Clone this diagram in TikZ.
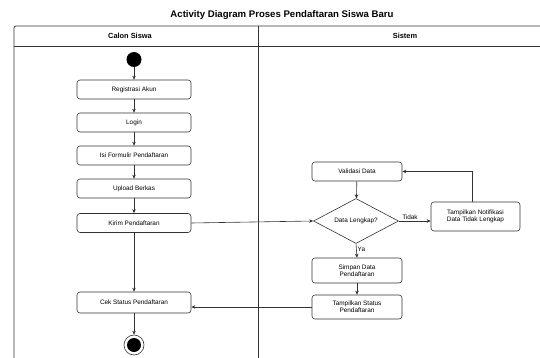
\documentclass[tikz,border=0pt]{standalone}
\usepackage{fontspec}
\setmainfont{Liberation Sans}
\usetikzlibrary{shapes.geometric,arrows.meta}
\begin{document}
\begin{tikzpicture}[x=1pt,y=-1pt,
  act/.style={draw=black!80,line width=0.6pt,rounded corners=3pt,minimum width=114pt,minimum height=19pt,font=\fontsize{6.4}{7.4}\selectfont,align=center,inner sep=1pt},
  sact/.style={act,minimum width=90pt},
  flow/.style={draw=black!80,line width=0.6pt,-{Stealth[length=4pt,width=3.5pt]}},
  lbl/.style={font=\fontsize{6.4}{7.4}\selectfont,inner sep=1pt}]
\useasboundingbox (0,0) rectangle (540,358);
\clip (0,0) rectangle (540,358);
% title and lanes
\node[font=\bfseries\fontsize{9.6}{11}\selectfont] (title) at (282,15) {Activity Diagram Proses Pendaftaran Siswa Baru};
\draw[black!80,line width=0.7pt,rounded corners=2pt] (14,380) -- (14,26) -- (560,26);
\draw[black!80,line width=0.6pt] (14,46) -- (560,46);
\draw[black!80,line width=0.6pt] (258,26) -- (258,380);
\node[font=\bfseries\fontsize{7.4}{8.4}\selectfont] (lane1) at (130,36) {Calon Siswa};
\node[font=\bfseries\fontsize{7.4}{8.4}\selectfont] (lane2) at (405,36) {Sistem};
% Calon Siswa
\node[circle,fill=black,minimum size=15pt,inner sep=0pt] (start) at (134,59.5) {};
\node[act] (reg) at (134,89.5) {Registrasi Akun};
\node[act] (login) at (134,122.5) {Login};
\node[act] (isi) at (134,155.5) {Isi Formulir Pendaftaran};
\node[act] (upl) at (134,188.5) {Upload Berkas};
\node[act] (kirim) at (134,223) {Kirim Pendaftaran};
\node[act,minimum height=21pt] (cek) at (134,302.5) {Cek Status Pendaftaran};
\node[circle,draw=black!80,line width=0.6pt,minimum size=20pt,inner sep=0pt] (endo) at (134,345) {};
\node[circle,fill=black,minimum size=14pt,inner sep=0pt] (endi) at (134,345) {};
% Sistem
\node[sact] (val) at (357,171.5) {Validasi Data};
\node[diamond,draw=black!80,line width=0.6pt,aspect=1.9,minimum width=85pt,minimum height=45pt,inner sep=0pt,font=\fontsize{6.4}{7.4}\selectfont] (cek2) at (356,221) {Data Lengkap?};
\node[act,minimum width=89pt,minimum height=29pt] (notif) at (475.5,216.5) {Tampilkan Notifikasi\\Data Tidak Lengkap};
\node[sact,minimum height=25pt] (simpan) at (357,270.5) {Simpan Data\\Pendaftaran};
\node[sact,minimum height=24pt] (tamp) at (357,307) {Tampilkan Status\\Pendaftaran};
% flows
\draw[flow] (start) -- (reg);
\draw[flow] (reg) -- (login);
\draw[flow] (login) -- (isi);
\draw[flow] (isi) -- (upl);
\draw[flow] (upl) -- (kirim);
\draw[flow] (kirim) -- (cek);
\draw[flow] (cek) -- (endo);
\draw[flow] (kirim.east) -- (cek2.west);
\draw[flow] (val) -- (cek2);
\draw[flow] (cek2.east) -- node[lbl,above,pos=0.35] (tidak) {Tidak} (notif.west |- cek2.east);
\draw[flow] (notif.north -| 472,0) |- (val.east);
\draw[flow] (cek2.south) -- node[lbl,right,pos=0.4] (ya) {Ya} (simpan.north);
\draw[flow] (simpan) -- (tamp);
\draw[flow] (tamp.west) -- (cek.east |- tamp.west);
\end{tikzpicture}
\end{document}
